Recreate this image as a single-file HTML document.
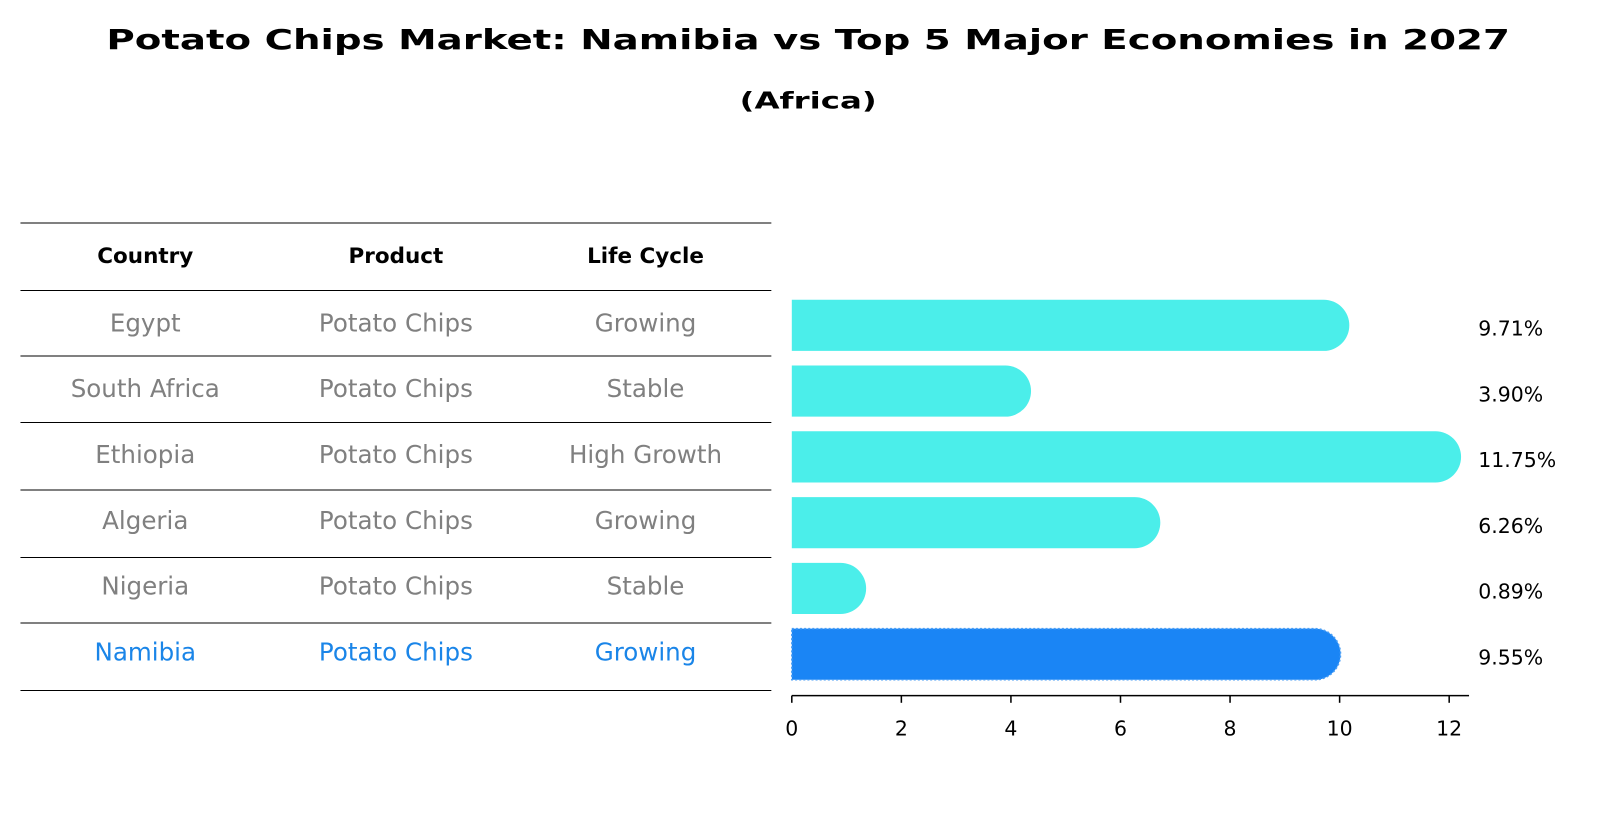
<!DOCTYPE html>
<html><head><meta charset="utf-8"><style>
body{margin:0;background:#fff;width:1604px;height:823px;overflow:hidden;font-family:"DejaVu Sans","Liberation Sans",sans-serif}
</style></head><body>
<svg width="1604" height="823" xmlns="http://www.w3.org/2000/svg" id="svg" font-family="DejaVu Sans, Liberation Sans, sans-serif">
<g transform="scale(1.0230)">
<text x="790" y="48" text-anchor="middle" font-size="27" font-weight="bold" textLength="1372" lengthAdjust="spacingAndGlyphs">Potato Chips Market: Namibia vs Top 5 Major Economies in 2027</text>
<text x="790" y="106" text-anchor="middle" font-size="23" font-weight="bold" textLength="134" lengthAdjust="spacingAndGlyphs">(Africa)</text>
<g id="table"></g>
<g id="bars"></g>
<g id="axis"></g>
</g>
</svg>
<script>
const countries=["Egypt","South Africa","Ethiopia","Algeria","Nigeria","Namibia"];
const products=["Potato Chips","Potato Chips","Potato Chips","Potato Chips","Potato Chips","Potato Chips"];
const lifecycles=["Growing","Stable","High Growth","Growing","Stable","Growing"];
const values=[9.71,3.90,11.75,6.26,0.89,9.55];
const ticks=[0,2,4,6,8,10,12];
const NS="http://www.w3.org/2000/svg";
function mk(tag,attrs,parent,text){const e=document.createElementNS(NS,tag);for(const k in attrs)e.setAttribute(k,attrs[k]);if(text!==undefined)e.textContent=text;parent.appendChild(e);return e;}
const x=v=>774+v*53.55;
const rowY=i=>316+i*64.3;
const table=document.getElementById('table'),bars=document.getElementById('bars'),axis=document.getElementById('axis');
const colX=[142,387,631];
const lines=[218,284,348,413,479,545,609,675];
lines.forEach(y=>{const l=mk('line',{x1:20,x2:754,y1:y,y2:y,stroke:'#000','stroke-width':1},table);

});
["Country","Product","Life Cycle"].forEach((h,j)=>{const t=mk('text',{x:colX[j],y:257,'text-anchor':'middle','font-size':21,'font-weight':'bold'},table,h);

});
countries.forEach((c,i)=>{
 const col=i===countries.length-1?'#1a85e8':'#808080';
 [c,products[i],lifecycles[i]].forEach((s,j)=>{const t=mk('text',{x:colX[j],y:rowY(i)+8,'text-anchor':'middle','font-size':24,fill:col},table,s);
 
 });
 const isN=i===countries.length-1;
 const h=50,r=25,y0=rowY(i)+2-h/2,xe=x(values[i]);
 const p=mk('path',{d:`M774 ${y0} H${xe} A${r} ${r} 0 0 1 ${xe} ${y0+h} H774 Z`,fill:isN?'#1a85f5':'#4beeea',stroke:isN?'#4a9ef5':'none','stroke-dasharray':isN?'2 2':'', 'stroke-width':isN?1.5:0},bars);
 
 
 const lbl=mk('text',{x:1445,y:rowY(i)+12,'font-size':20},bars,values[i].toFixed(2)+'%');
 
 
});
const al=mk('line',{x1:774,x2:1436,y1:680,y2:680,stroke:'#000','stroke-width':1.5},axis);


ticks.forEach(t=>{const tk=mk('line',{x1:x(t),x2:x(t),y1:680,y2:687,stroke:'#000','stroke-width':1.5},axis);


const tl=mk('text',{x:x(t),y:719,'text-anchor':'middle','font-size':20},axis,String(t));

});
</script>
</body></html>
